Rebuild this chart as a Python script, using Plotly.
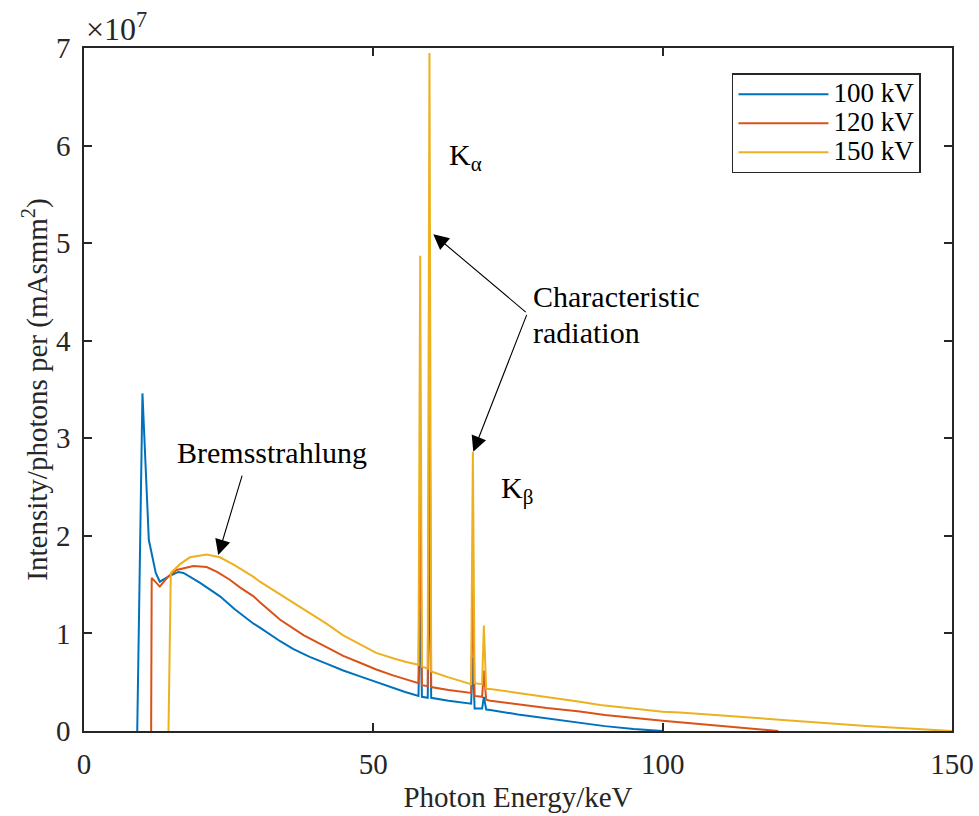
import plotly.graph_objects as go

# ---------------- data (intensity in units of 1e7 photons per mAs mm^2) ----------------
energy_100 = [9.2, 10.1, 11.2, 12.4, 13.1, 14.5, 16.3, 17.2, 20.0, 23.5, 26.0, 29.3, 30.4,
              33.9, 36.2, 39.0, 41.9, 44.8, 47.7, 50.5, 53.4, 55.5, 57.8, 58.1, 58.4, 59.4,
              59.7, 60.0, 63.0, 66.9, 67.2, 67.5, 68.8, 69.1, 69.5, 70.2, 75.0, 80.0, 85.7,
              90.0, 95.0, 100.0]
intensity_100 = [0.0, 3.46, 1.96, 1.62, 1.53, 1.58, 1.63, 1.62, 1.52, 1.38, 1.25, 1.10, 1.06,
                 0.92, 0.84, 0.76, 0.69, 0.62, 0.56, 0.50, 0.44, 0.40, 0.36, 1.25, 0.35, 0.34,
                 1.90, 0.34, 0.31, 0.28, 0.75, 0.23, 0.23, 0.35, 0.22, 0.215, 0.17, 0.13, 0.085,
                 0.05, 0.02, 0.0]

energy_120 = [11.6, 11.7, 13.1, 14.5, 16.0, 18.9, 21.2, 23.0, 25.2, 27.0, 29.3, 30.4, 33.9,
              36.2, 38.0, 41.9, 44.8, 47.7, 50.5, 53.4, 55.5, 57.8, 58.1, 58.4, 59.4, 59.7,
              60.0, 63.0, 66.9, 67.2, 67.5, 68.8, 69.1, 69.5, 70.2, 75.0, 80.0, 85.7, 90.0,
              100.0, 110.0, 120.0]
intensity_120 = [0.0, 1.57, 1.48, 1.58, 1.65, 1.69, 1.68, 1.63, 1.55, 1.47, 1.38, 1.32, 1.14,
                 1.05, 0.98, 0.86, 0.77, 0.70, 0.63, 0.57, 0.53, 0.49, 2.50, 0.47, 0.46, 4.00,
                 0.45, 0.42, 0.39, 1.49, 0.36, 0.35, 0.62, 0.32, 0.31, 0.27, 0.235, 0.20, 0.165,
                 0.105, 0.05, 0.0]

energy_150 = [14.6, 15.0, 16.6, 18.3, 21.2, 23.5, 26.0, 29.3, 30.4, 33.9, 36.2, 39.0, 41.9,
              44.8, 47.7, 50.5, 53.4, 55.5, 57.8, 58.1, 58.4, 59.4, 59.7, 60.0, 63.0, 66.9,
              67.2, 67.5, 68.8, 69.1, 69.5, 70.2, 75.0, 80.0, 85.7, 89.2, 100.0, 103.0, 119.4,
              135.2, 150.0]
intensity_150 = [0.0, 1.62, 1.71, 1.78, 1.81, 1.78, 1.70, 1.58, 1.53, 1.40, 1.32, 1.21, 1.10,
                 0.98, 0.89, 0.80, 0.745, 0.71, 0.68, 4.87, 0.66, 0.64, 6.95, 0.61, 0.55, 0.48,
                 2.86, 0.49, 0.48, 1.08, 0.43, 0.43, 0.39, 0.35, 0.30, 0.266, 0.198, 0.19, 0.12,
                 0.05, 0.0]

series_names = ["100 kV", "120 kV", "150 kV"]
series_colors = ["#0072BD", "#D95319", "#EDB120"]

x_ticks = [0, 50, 100, 150]
y_ticks = [0, 1, 2, 3, 4, 5, 6, 7]

SCALE = 1e7
FONT = "Liberation Serif, Times New Roman, serif"
AX = "#262626"

fig = go.Figure()
for xs, ys, name, col in zip([energy_100, energy_120, energy_150],
                             [intensity_100, intensity_120, intensity_150],
                             series_names, series_colors):
    fig.add_trace(go.Scatter(x=xs, y=[v * SCALE for v in ys], mode="lines",
                             name='<span style="font-size:27px">' + name + '</span>',
                             line=dict(color=col, width=2)))

fig.update_layout(
    width=979, height=816,
    margin=dict(l=84, r=27, t=48, b=85),
    paper_bgcolor="white", plot_bgcolor="white",
    font=dict(family=FONT, size=29, color=AX),
    showlegend=True,
    legend=dict(x=0.7465, y=0.963, xanchor="left", yanchor="top",
                bgcolor="white", bordercolor=AX, borderwidth=1.5,
                font=dict(family=FONT, size=20, color="black"),
                itemwidth=90, tracegroupgap=0),
)

fig.update_xaxes(range=[0, 150], tickvals=x_ticks, ticktext=[str(t) for t in x_ticks],
                 ticks="inside", ticklen=8, tickwidth=1.5, tickcolor=AX,
                 showline=True, linecolor=AX, linewidth=1.5, mirror="ticks",
                 showgrid=False, zeroline=False, ticklabelstandoff=6, automargin=False,
                 title=dict(text="Photon Energy/keV", standoff=8,
                            font=dict(family=FONT, size=29, color=AX)))
fig.update_yaxes(range=[0, 7 * SCALE], tickvals=[t * SCALE for t in y_ticks],
                 ticktext=[str(t) for t in y_ticks],
                 ticks="inside", ticklen=8, tickwidth=1.5, tickcolor=AX,
                 showline=True, linecolor=AX, linewidth=1.5, mirror="ticks",
                 showgrid=False, zeroline=False, ticklabelstandoff=6, automargin=False,
                 title=dict(text="Intensity/photons per (mAsmm<sup>2</sup>)", standoff=0,
                            font=dict(family=FONT, size=29, color=AX)))

# exponent label
fig.add_annotation(xref="paper", yref="paper", x=0.0, y=1.0, xanchor="left", yanchor="bottom",
                   text="×10<sup>7</sup>", showarrow=False, yshift=-1,
                   font=dict(family=FONT, size=32, color=AX))

# text labels
fig.add_annotation(x=32.5, y=2.85 * SCALE, text="Bremsstrahlung", showarrow=False,
                   xanchor="center", yanchor="middle", font=dict(family=FONT, size=30, color="black"))
fig.add_annotation(x=77.3, y=4.45 * SCALE, text="Characteristic", showarrow=False,
                   xanchor="left", yanchor="middle", font=dict(family=FONT, size=30, color="black"))
fig.add_annotation(x=77.3, y=4.08 * SCALE, text="radiation", showarrow=False,
                   xanchor="left", yanchor="middle", font=dict(family=FONT, size=30, color="black"))
fig.add_annotation(x=62.7, y=5.88 * SCALE, text="K<sub>α</sub>", showarrow=False,
                   xanchor="left", yanchor="middle", font=dict(family=FONT, size=30, color="black"))
fig.add_annotation(x=71.7, y=2.47 * SCALE, text="K<sub>β</sub>", showarrow=False,
                   xanchor="left", yanchor="middle", font=dict(family=FONT, size=30, color="black"))

# arrows (tail -> head)
arrows = [((27.4, 2.633), (23.2, 1.803)),
          ((76.6, 4.28), (60.36, 5.092)),
          ((76.6, 4.28), (67.27, 2.862))]
for (tx, ty), (hx, hy) in arrows:
    fig.add_annotation(x=hx, y=hy * SCALE, ax=tx, ay=ty * SCALE, xref="x", yref="y",
                       axref="x", ayref="y", text="", showarrow=True,
                       arrowhead=2, arrowsize=2.8, arrowwidth=1.1, arrowcolor="black")

fig.write_html("out.html")
